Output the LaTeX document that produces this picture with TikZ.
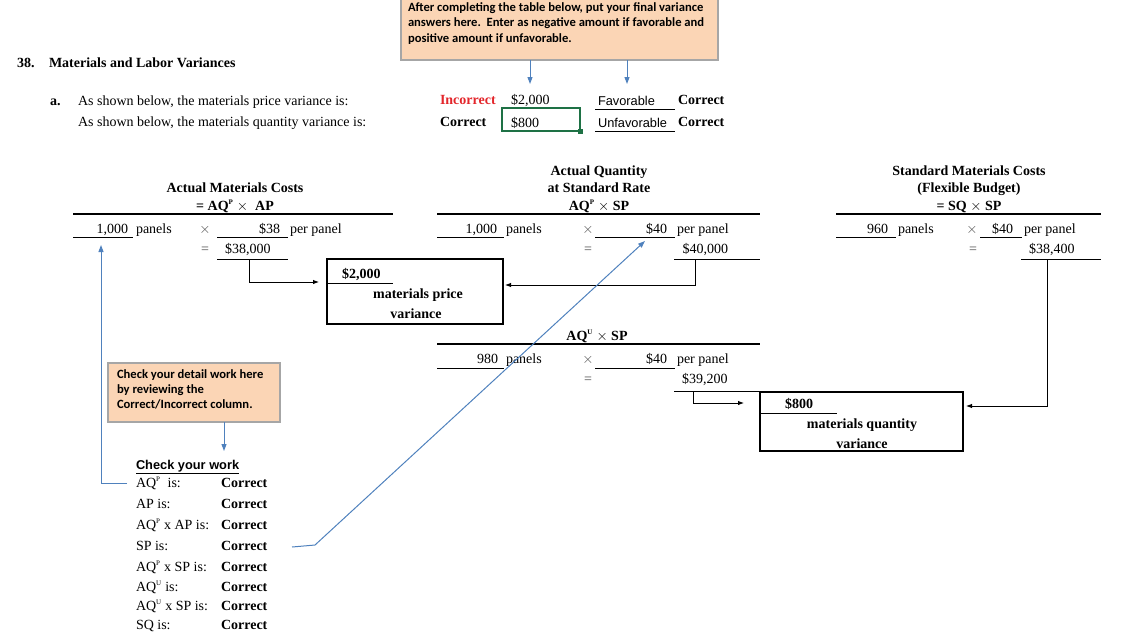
\documentclass[tikz,border=0pt]{standalone}
\usepackage{fontspec}
\setmainfont{Liberation Serif}
\newfontfamily\calib{Carlito}
\newfontfamily\arialf{Liberation Sans}
\usetikzlibrary{arrows.meta}
\definecolor{calloutfill}{HTML}{FBD5B5}
\definecolor{calloutedge}{HTML}{A6A6A6}
\definecolor{linkblue}{HTML}{4F81BD}
\definecolor{wrongred}{HTML}{E3262B}
\definecolor{xlgreen}{HTML}{1E7145}
\begin{document}
\begin{tikzpicture}[x=1pt,y=-1pt,
  every node/.style={inner sep=0pt,outer sep=0pt},
  sz/.style={font=\fontsize{14}{16}\selectfont},
  tl/.style={sz,anchor=base west},
  tr/.style={sz,anchor=base east},
  tc/.style={sz,anchor=base},
  bl/.style={font=\fontsize{14}{16}\selectfont\bfseries,anchor=base west},
  bc/.style={font=\fontsize{14}{16}\selectfont\bfseries,anchor=base},
  callout/.style={draw=calloutedge,fill=calloutfill,line width=1.2pt},
  ctext/.style={font=\calib\fontsize{12.6}{15.5}\selectfont\bfseries,anchor=base west},
  rule/.style={line width=0.8pt},
  thick rule/.style={line width=2.6pt},
  vbox/.style={draw,line width=2pt},
  blk/.style={line width=0.9pt,-{Latex[length=6pt,width=4.5pt]}},
  blu/.style={draw=linkblue,line width=1pt,-{Triangle[length=7pt,width=5pt]}},
  sans/.style={font=\arialf\fontsize{12.8}{15}\selectfont,anchor=base west},
]
\useasboundingbox (0,0) rectangle (1139,638);

% ---------- top callout ----------
\draw[callout] (401,-2) rectangle (718,60);
\node[ctext] (c1) at (408,11) {After completing the table below, put your final variance};
\node[ctext] (c2) at (408,26) {answers here.\ \ Enter as negative amount if favorable and};
\node[ctext] (c3) at (408,42) {positive amount if unfavorable.};
\coordinate (ca1) at (530,60);
\coordinate (ca2) at (627,60);
\coordinate (cb1) at (530,84);
\coordinate (cb2) at (627,84);
\draw[blu] (ca1) -- (cb1);
\draw[blu] (ca2) -- (cb2);

% ---------- heading ----------
\node[bl] (n38) at (17,67) {38.};
\node[bl] (ttl) at (49,67) {Materials and Labor Variances};
\node[bl] (qa) at (50,105) {a.};
\node[tl] (q1) at (78,105) {As shown below, the materials price variance is:};
\node[tl] (q2) at (78,126) {As shown below, the materials quantity variance is:};

\node[bl,text=wrongred] (r1) at (440,104) {Incorrect};
\node[tl] (a1) at (511,104) {\$2,000};
\node[bl] (r2) at (440,126) {Correct};
\draw[xlgreen,line width=1.6pt] (502,108) rectangle (580,131);
\fill[xlgreen] (578,129) rectangle (583,134);
\node[tl] (a2) at (511,127) {\$800};
\node[sans] (f1) at (598,105) {Favorable};
\node[sans] (f2) at (598,127) {Unfavorable};
\draw[rule] (595,109) -- (675,109);
\draw[rule] (595,131) -- (675,131);
\node[bl] (k1) at (678,104) {Correct};
\node[bl] (k2) at (678,126) {Correct};

% ---------- column 1 ----------
\node[bc] (h1a) at (235,192) {Actual Materials Costs};
\node[bc] (h1b) at (235,210) {= AQ\textsuperscript{\scriptsize P} $\times$\ \ AP};
\draw[thick rule] (73,214) -- (393,214);
\node[tr] (q1000a) at (128,233) {1,000};
\draw[rule] (73,237) -- (133,237);
\node[tl] (pn1) at (136,233) {panels};
\node[tc,text=black!70] (x1) at (205,233) {$\times$};
\node[tr] (p38) at (280,233) {\$38};
\draw[rule] (217,237) -- (288,237);
\node[tl] (pp1) at (290,233) {per panel};
\node[tc,text=black!70] (e1) at (205,253) {=};
\node[tl] (t38) at (225,253) {\$38,000};
\draw[rule] (217,259) -- (288,259);

% price variance box
\draw[vbox] (327,259) rectangle (503,324);
\node[bl] (pv) at (342,278) {\$2,000};
\draw[rule] (328,283) -- (393,283);
\node[bc] (pv1) at (418,298) {materials price};
\node[bc] (pv2) at (416,318) {variance};
\coordinate (s1) at (249,259);
\coordinate (s1t) at (319,282);
\draw[blk] (s1) |- (s1t);

% ---------- column 2 ----------
\node[bc] (h2a) at (599,175) {Actual Quantity};
\node[bc] (h2b) at (599,192) {at Standard Rate};
\node[bc] (h2c) at (599,210) {AQ\textsuperscript{\scriptsize P} $\times$ SP};
\draw[thick rule] (437,214) -- (760,214);
\node[tr] (q1000b) at (497,233) {1,000};
\draw[rule] (437,237) -- (504,237);
\node[tl] (pn2) at (506,233) {panels};
\node[tc,text=black!70] (x2) at (588,233) {$\times$};
\node[tr] (p40a) at (667,233) {\$40};
\draw[rule] (595,237) -- (675,237);
\node[tl] (pp2) at (677,233) {per panel};
\node[tc,text=black!70] (e2) at (588,253) {=};
\node[tr] (t40) at (728,253) {\$40,000};
\draw[rule] (674,259) -- (760,259);
\coordinate (s2) at (695,259);
\coordinate (s2t) at (505,285);
\draw[blk] (s2) |- (s2t);

% AQU x SP
\node[bc] (h2d) at (597,340) {AQ\textsuperscript{\scriptsize U} $\times$ SP};
\draw[thick rule] (437,344) -- (760,344);
\node[tr] (q980) at (498,363) {980};
\draw[rule] (437,368) -- (504,368);
\node[tl] (pn3) at (506,363) {panels};
\node[tc,text=black!70] (x3) at (588,363) {$\times$};
\node[tr] (p40b) at (667,363) {\$40};
\draw[rule] (595,368) -- (675,368);
\node[tl] (pp3) at (677,363) {per panel};
\node[tc,text=black!70] (e3) at (588,383) {=};
\node[tl] (t392) at (682,383) {\$39,200};
\draw[rule] (674,391) -- (760,391);
\coordinate (s3) at (693,391);
\coordinate (s3t) at (744,403);
\draw[blk] (s3) |- (s3t);

% ---------- column 3 ----------
\node[bc] (h3a) at (969,175) {Standard Materials Costs};
\node[bc] (h3b) at (969,192) {(Flexible Budget)};
\node[bc] (h3c) at (969,210) {= SQ $\times$ SP};
\draw[thick rule] (836,214) -- (1101,214);
\node[tr] (q960) at (888,233) {960};
\draw[rule] (836,237) -- (896,237);
\node[tl] (pn4) at (898,233) {panels};
\node[tc,text=black!70] (x4) at (972,233) {$\times$};
\node[tr] (p40c) at (1013,233) {\$40};
\draw[rule] (980,237) -- (1022,237);
\node[tl] (pp4) at (1024,233) {per panel};
\node[tc,text=black!70] (e4) at (973,253) {=};
\node[tl] (t384) at (1029,253) {\$38,400};
\draw[rule] (1021,259) -- (1101,259);
\coordinate (s4) at (1047,259);
\coordinate (s4t) at (966,406);
\draw[blk] (s4) |- (s4t);

% quantity variance box
\draw[vbox] (760,392) rectangle (963,451);
\node[bl] (qv) at (785,408) {\$800};
\draw[rule] (760,413) -- (837,413);
\node[bc] (qv1) at (862,428) {materials quantity};
\node[bc] (qv2) at (862,448) {variance};

% ---------- check callout ----------
\draw[callout] (108,363) rectangle (280,422);
\node[ctext] (d1) at (117,378) {Check your detail work here};
\node[ctext] (d2) at (117,393) {by reviewing the};
\node[ctext] (d3) at (117,408) {Correct/Incorrect column.};
\coordinate (da) at (224,422);
\coordinate (db) at (224,451);
\draw[blu] (da) -- (db);

% ---------- check your work ----------
\node[font=\arialf\bfseries\fontsize{12.8}{15}\selectfont,anchor=base west] (cyw) at (136,469) {\underline{Check your work}};
\node[tl] (w1) at (136,487) {AQ\textsuperscript{\scriptsize P}\ \ is:};
\node[tl] (w2) at (136,508) {AP is:};
\node[tl] (w3) at (136,529) {AQ\textsuperscript{\scriptsize P} x AP is:};
\node[tl] (w4) at (136,550) {SP is:};
\node[tl] (w5) at (136,571) {AQ\textsuperscript{\scriptsize P} x SP is:};
\node[tl] (w6) at (136,591) {AQ\textsuperscript{\scriptsize U} is:};
\node[tl] (w7) at (136,610) {AQ\textsuperscript{\scriptsize U} x SP is:};
\node[tl] (w8) at (136,629) {SQ is:};
\foreach \y/\n in {487/1,508/2,529/3,550/4,571/5,591/6,610/7,629/8}
  \node[bl] (ok\n) at (221,\y) {Correct};

% blue links
\coordinate (l1a) at (127,483);
\coordinate (l1b) at (101,483);
\coordinate (l1c) at (101,245);
\draw[blu] (l1a) -- (l1b) -- (l1c);
\coordinate (l2a) at (292,547);
\coordinate (l2b) at (315,545);
\coordinate (l2c) at (645,241);
\draw[blu] (l2a) -- (l2b) -- (l2c);
\end{tikzpicture}
\end{document}
